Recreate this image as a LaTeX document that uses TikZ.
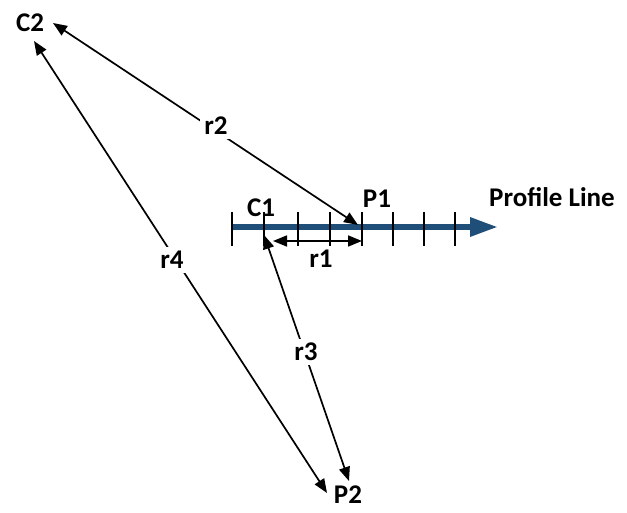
\documentclass[tikz,border=0pt]{standalone}
\usepackage{fontspec}
\setmainfont{Carlito}
\usetikzlibrary{arrows.meta}
\definecolor{profileblue}{RGB}{31,78,121}
\tikzset{
    lbl/.style={font=\bfseries\fontsize{27}{30}\selectfont,inner sep=1pt},
    gap/.style={lbl,fill=white,inner sep=4pt},
    dist/.style={{Triangle[length=14pt,width=11pt]}-{Triangle[length=14pt,width=11pt]},line width=1.7pt},
}
\begin{document}
\begin{tikzpicture}[x=1pt,y=-1pt]
    \useasboundingbox (0,0) rectangle (627,513);
    % profile line and stations
    \coordinate (ls) at (232,227);
    \coordinate (le) at (498,227);
    \draw[line width=6pt,profileblue,-{Triangle[length=28pt,width=18pt]}] (ls)--(le);
    \foreach \x in {232,264,298,330,362,393,424,455}{
        \draw[line width=1.6pt] (\x,212)--(\x,246);
    }
    % arrow ends
    \coordinate (c1) at (264,235);
    \coordinate (p1) at (358,225);
    \coordinate (c2a) at (53,23);
    \coordinate (c2b) at (34,41);
    \coordinate (p2a) at (327,493);
    \coordinate (p2b) at (349,481);
    \coordinate (r1a) at (273,241);
    \coordinate (r1b) at (362,241);
    \draw[dist] (r1a)--(r1b);
    \draw[dist] (p1)--(c2a);
    \draw[dist] (c2b)--(p2a);
    \draw[dist] (c1)--(p2b);
    % labels
    \node[lbl] (C1) at (261,208) {C1};
    \node[lbl] (P1) at (377,199) {P1};
    \node[lbl] (C2) at (30,23) {C2};
    \node[lbl] (P2) at (348,495) {P2};
    \node[lbl] (r1) at (321,259) {r1};
    \node[gap] (r2) at (216,126) {r2};
    \node[gap] (r3) at (306,352) {r3};
    \node[gap] (r4) at (172,260) {r4};
    \node[lbl] (prof) at (552,197) {Profile Line};
\end{tikzpicture}
\end{document}
